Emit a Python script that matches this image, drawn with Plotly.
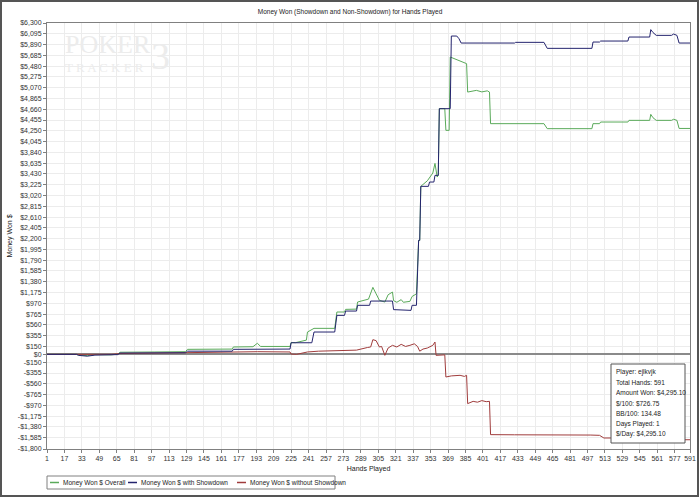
import plotly.graph_objects as go

# ---------------- data ----------------
hands_overall = [1, 28, 30, 38, 45, 60, 66, 68, 100, 128, 130, 171, 172, 190, 194, 197, 224, 225, 229, 232,
                 239, 240, 245, 246, 265, 267, 274, 275, 285, 286, 296, 300, 303, 306, 311, 314, 318, 319, 322, 326,
                 328, 331, 334, 336, 338, 340, 342, 343, 344, 350, 355, 357, 359, 360, 361, 366, 367, 370, 371, 375,
                 380, 386, 387, 395, 400, 405, 407, 408, 457, 460, 501, 502, 508, 509, 534, 535, 554, 555, 557, 560,
                 574, 576, 579, 581, 591]
won_overall = [0, 0, -15, -25, -5, -10, 5, 40, 45, 50, 95, 100, 140, 145, 210, 150, 150, 225, 222, 240,
               270, 424, 494, 494, 494, 805, 805, 855, 860, 995, 1050, 1274, 1150, 1027, 994, 1133, 1184, 1021, 990, 1040,
               990, 1000, 1007, 1100, 1132, 1150, 2167, 2167, 3194, 3300, 3447, 3630, 3371, 3403, 4671, 4671, 4259, 4259, 5653, 5620,
               5580, 5527, 4987, 5019, 4990, 5010, 4987, 4386, 4386, 4291, 4291, 4386, 4386, 4417, 4417, 4449, 4449, 4563, 4500, 4449,
               4449, 4470, 4449, 4295, 4295]

hands_showdown = [1, 28, 30, 38, 45, 55, 60, 66, 68, 100, 128, 130, 171, 172, 194, 200, 224, 225, 244, 246,
                  265, 267, 274, 275, 285, 286, 297, 298, 318, 319, 327, 328, 335, 336, 340, 342, 343, 344, 351, 352,
                  356, 357, 360, 361, 371, 372, 377, 379, 381, 430, 431, 457, 460, 501, 502, 508, 509, 534, 535, 554,
                  555, 557, 560, 574, 576, 579, 581, 591]
won_showdown = [0, 0, -20, -35, -15, -10, -20, -5, 25, 25, 30, 60, 60, 95, 95, 100, 100, 220, 220, 424,
                424, 741, 741, 823, 823, 932, 932, 1013, 1013, 850, 850, 836, 836, 932, 932, 2167, 2167, 3194, 3194, 3276,
                3276, 3403, 3403, 4671, 4671, 6052, 6052, 6002, 5919, 5919, 5932, 5932, 5818, 5818, 5938, 5938, 5957, 5957, 6033, 6033,
                6174, 6120, 6065, 6065, 6090, 6065, 5919, 5919]

hands_no_showdown = [1, 60, 68, 130, 172, 194, 224, 225, 230, 240, 250, 265, 285, 295, 298, 300, 303, 306, 308, 311,
                     314, 318, 322, 326, 330, 334, 338, 341, 343, 346, 350, 355, 357, 358, 366, 367, 372, 380, 384, 386,
                     387, 392, 396, 400, 404, 407, 408, 430, 460, 500, 508, 512, 534, 554, 574, 581, 591]
won_no_showdown = [0, 0, 15, 35, 45, 50, 45, 5, 0, 45, 60, 70, 80, 130, 140, 279, 260, 139, 150, -19,
                   120, 171, 140, 190, 150, 171, 200, 150, 60, 100, 120, 171, 234, -19, -10, -431, -410, -399, -420, -399,
                   -937, -894, -910, -880, -900, -894, -1527, -1530, -1527, -1535, -1540, -1591, -1590, -1595, -1610, -1624, -1624]

x_tick_values = [1, 17, 33, 49, 65, 81, 97, 113, 129, 145, 161, 177, 193, 209, 225, 241, 257, 273, 289, 305,
                 321, 337, 353, 369, 385, 401, 417, 433, 449, 465, 481, 497, 513, 529, 545, 561, 577, 591]
y_tick_values = [-1800, -1585, -1380, -1175, -970, -765, -560, -355, -150, 0, 150, 355, 560, 765, 970, 1175,
                 1380, 1585, 1790, 1995, 2200, 2405, 2610, 2815, 3020, 3225, 3430, 3635, 3840, 4045, 4250, 4455,
                 4660, 4865, 5070, 5275, 5480, 5685, 5890, 6095, 6300]
y_tick_labels = [("-$" if v < 0 else "$") + f"{abs(v):,}" for v in y_tick_values]

series_names = ["Money Won $ Overall", "Money Won $ with Showdown", "Money Won $ without Showdown"]
info_lines = ["Player: ejlkvjk", "Total Hands: 591", "Amount Won: $4,295.10", "$/100: $726.75",
              "BB/100: 134.48", "Days Played: 1", "$/Day: $4,295.10"]

# ---------------- figure ----------------
W, H = 700, 498
ML, MR, MT, MB = 47, 10, 23, 49
PW, PH = W - ML - MR, H - MT - MB

def px(xp):
    return (xp - ML) / PW

def py(yp):
    return (H - MB - yp) / PH

FONT = "Liberation Sans"
GREEN, NAVY, RED = "#5aaa5a", "#24246e", "#a03c3c"
colors = [GREEN, NAVY, RED]

fig = go.Figure()
fig.add_trace(go.Scatter(x=hands_overall, y=won_overall, mode="lines", name=series_names[0],
                         line=dict(color=GREEN, width=1)))
fig.add_trace(go.Scatter(x=hands_no_showdown, y=won_no_showdown, mode="lines", name=series_names[2],
                         line=dict(color=RED, width=1)))
fig.add_trace(go.Scatter(x=hands_showdown, y=won_showdown, mode="lines", name=series_names[1],
                         line=dict(color=NAVY, width=1)))

shapes = []
annotations = []
# outer border of the chart image
shapes.append(dict(type="rect", xref="paper", yref="paper",
                   x0=px(1), x1=px(698), y0=py(496), y1=py(1),
                   line=dict(color="#555555", width=2), fillcolor="rgba(0,0,0,0)", layer="above"))
# info box
shapes.append(dict(type="rect", xref="paper", yref="paper",
                   x0=px(611), x1=px(685), y0=py(443), y1=py(364),
                   line=dict(color="#555555", width=1), fillcolor="white", layer="above"))
for i, t in enumerate(info_lines):
    annotations.append(dict(text=t, xref="paper", yref="paper", x=px(614), y=py(372 + 10.4 * i),
                            xanchor="left", yanchor="middle", showarrow=False,
                            font=dict(family=FONT, size=6.5, color="#222222")))

# legend (drawn as a box with line samples and labels)
shapes.append(dict(type="rect", xref="paper", yref="paper",
                   x0=px(47), x1=px(335), y0=py(489), y1=py(476),
                   line=dict(color="#808080", width=1), fillcolor="white", layer="above"))
legend_x = [50, 128, 237]
for name, col, lx in zip(series_names, colors, legend_x):
    shapes.append(dict(type="line", xref="paper", yref="paper",
                       x0=px(lx), x1=px(lx + 9), y0=py(482.5), y1=py(482.5),
                       line=dict(color=col, width=1.5), layer="above"))
    annotations.append(dict(text=name, xref="paper", yref="paper", x=px(lx + 11), y=py(482.5),
                            xanchor="left", yanchor="middle", showarrow=False,
                            font=dict(family=FONT, size=6.5, color="#222222")))

# watermark
annotations.append(dict(text="POKER", xref="paper", yref="paper", x=px(63), y=py(45), xanchor="left",
                        yanchor="middle", showarrow=False,
                        font=dict(family="Liberation Serif", size=26, color="#ececec")))
annotations.append(dict(text="3", xref="paper", yref="paper", x=px(149), y=py(56), xanchor="left",
                        yanchor="middle", showarrow=False,
                        font=dict(family="Liberation Serif", size=38, color="#ececec")))
annotations.append(dict(text="T R A C K E R", xref="paper", yref="paper", x=px(63), y=py(67), xanchor="left",
                        yanchor="middle", showarrow=False,
                        font=dict(family="Liberation Serif", size=13, color="#ececec")))

fig.update_layout(
    width=W, height=H,
    margin=dict(l=ML, r=MR, t=MT, b=MB, autoexpand=False),
    paper_bgcolor="white", plot_bgcolor="white",
    font=dict(family=FONT, size=7, color="#333333"),
    title=dict(text="Money Won (Showdown and Non-Showdown) for Hands Played",
               x=0.5, xanchor="center", y=1 - 12 / H, yanchor="middle",
               font=dict(family=FONT, size=6.5, color="#222222")),
    showlegend=False,
    shapes=shapes, annotations=annotations,
    hovermode=False,
)
fig.update_xaxes(range=[1, 591], tickmode="array", tickvals=x_tick_values,
                 ticktext=[str(v) for v in x_tick_values], automargin=False,
                 showgrid=True, gridcolor="#ececec", gridwidth=1,
                 showline=True, linecolor="#808080", linewidth=1, mirror=True,
                 ticks="outside", ticklen=3, tickcolor="#808080", zeroline=False,
                 tickfont=dict(size=7, color="#333333"),
                 title=dict(text="Hands Played", font=dict(size=7, color="#222222"), standoff=4))
fig.update_yaxes(range=[-1800, 6300], tickmode="array", tickvals=y_tick_values, ticktext=y_tick_labels,
                 automargin=False,
                 showgrid=True, gridcolor="#ececec", gridwidth=1,
                 showline=True, linecolor="#808080", linewidth=1, mirror=True,
                 ticks="outside", ticklen=3, tickcolor="#808080",
                 zeroline=True, zerolinecolor="#8a8a8a", zerolinewidth=2,
                 tickfont=dict(size=7, color="#333333"),
                 title=dict(text="Money Won $", font=dict(size=7, color="#222222"), standoff=4))

fig.write_html("out.html", config={"displayModeBar": False},
               post_script="document.body.style.margin='0';")
